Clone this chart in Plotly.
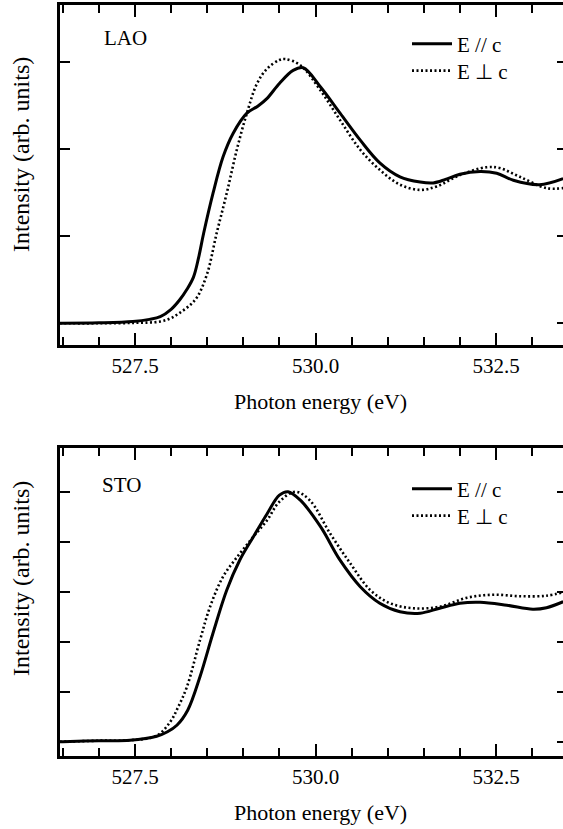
import plotly.graph_objects as go

# ---------------- data: LAO panel ----------------
lao_par_E = [526.46, 526.5, 527.0, 527.47, 527.7, 527.85, 528.0, 528.12, 528.22, 528.31, 528.38, 528.45,
             528.58, 528.72, 528.86, 529.05, 529.2, 529.33, 529.5, 529.69, 529.83, 530.07, 530.34,
             530.62, 530.89, 531.17, 531.45, 531.63, 531.8, 532.0, 532.28, 532.51, 532.74, 533.1, 533.43]
lao_par_I = [0.0, 0.0, 0.005, 0.02, 0.045, 0.076, 0.16, 0.27, 0.39, 0.53, 0.75, 1.03,
             1.49, 1.91, 2.18, 2.41, 2.49, 2.58, 2.75, 2.90, 2.93, 2.71, 2.41,
             2.10, 1.84, 1.68, 1.62, 1.61, 1.65, 1.71, 1.74, 1.72, 1.64, 1.59, 1.66]

lao_perp_E = [526.46, 526.5, 527.0, 527.5, 527.85, 528.0, 528.12, 528.25, 528.36, 528.5, 528.63,
              528.77, 528.91, 529.05, 529.19, 529.33, 529.5, 529.58, 529.79, 530.07, 530.34,
              530.62, 530.89, 531.17, 531.45, 531.68, 532.0, 532.37, 532.55, 532.83, 533.2, 533.43]
lao_perp_I = [0.0, 0.0, 0.0, 0.005, 0.02, 0.06, 0.12, 0.20, 0.30, 0.57, 1.03,
              1.49, 1.99, 2.41, 2.75, 2.92, 3.02, 3.03, 2.96, 2.67, 2.33,
              1.99, 1.76, 1.59, 1.53, 1.57, 1.70, 1.79, 1.78, 1.68, 1.55, 1.55]

# ---------------- data: STO panel ----------------
sto_par_E = [526.46, 526.5, 527.0, 527.43, 527.8, 527.95, 528.08, 528.23, 528.4, 528.58, 528.77,
             528.95, 529.14, 529.33, 529.5, 529.62, 529.79, 530.07, 530.34, 530.62, 530.89,
             531.17, 531.45, 531.72, 532.0, 532.28, 532.65, 533.01, 533.2, 533.43]
sto_par_I = [0.0, 0.0, 0.02, 0.03, 0.11, 0.2, 0.33, 0.63, 1.30, 2.17, 3.03,
             3.63, 4.10, 4.56, 4.93, 5.0, 4.83, 4.30, 3.63, 3.10, 2.77,
             2.60, 2.57, 2.67, 2.77, 2.79, 2.73, 2.65, 2.68, 2.80]

sto_perp_E = [526.46, 526.5, 527.0, 527.43, 527.8, 527.99, 528.1, 528.22, 528.4, 528.54, 528.72,
              528.95, 529.14, 529.33, 529.5, 529.72, 529.92, 530.2, 530.48, 530.76, 531.03,
              531.35, 531.72, 532.1, 532.46, 532.83, 533.2, 533.43]
sto_perp_I = [0.0, 0.0, 0.02, 0.03, 0.12, 0.40, 0.70, 1.10, 2.03, 2.70, 3.30,
              3.76, 4.10, 4.43, 4.80, 5.0, 4.83, 4.17, 3.57, 3.03, 2.77,
              2.67, 2.70, 2.88, 2.94, 2.91, 2.92, 2.99]

x_tickvals = [527.5, 530.0, 532.5]
x_ticktext = ["527.5", "530.0", "532.5"]
lao_yticks = [0, 1, 2, 3]
sto_yticks = [0, 1, 2, 3, 4, 5]
panel_labels = ["LAO", "STO"]
series_names = ["E // c", "E \u22a5 c"]
x_title = "Photon energy (eV)"
y_title = "Intensity (arb. units)"

W, H = 563, 829
FONT = "Liberation Serif, Times New Roman, serif"
FS = 21

def py(px):
    return 1 - px / H

def pxx(px):
    return px / W

fig = go.Figure()

solid = dict(color="black", width=3)
dotted = dict(color="black", width=2.6, dash="2px,2.5px")

fig.add_trace(go.Scatter(x=lao_par_E, y=lao_par_I, mode="lines", line=solid, line_shape="spline",
                         name=series_names[0], xaxis="x", yaxis="y", legend="legend"))
fig.add_trace(go.Scatter(x=lao_perp_E, y=lao_perp_I, mode="lines", line=dotted, line_shape="spline",
                         name=series_names[1], xaxis="x", yaxis="y", legend="legend2"))
fig.add_trace(go.Scatter(x=sto_par_E, y=sto_par_I, mode="lines", line=solid, line_shape="spline",
                         name=series_names[0], xaxis="x2", yaxis="y3", legend="legend3"))
fig.add_trace(go.Scatter(x=sto_perp_E, y=sto_perp_I, mode="lines", line=dotted, line_shape="spline",
                         name=series_names[1], xaxis="x2", yaxis="y3", legend="legend4"))

xdom = [60 / W, 1.0]
top_dom = [py(345), py(5)]
bot_dom = [py(755.7), py(448.3)]

xrange = [527.5 - 75 / 72.2, 527.5 + (W - 135) / 72.2]

def xaxis(domain_anchor):
    return dict(domain=xdom, anchor=domain_anchor, range=xrange,
                showline=True, linecolor="black", linewidth=2.5, mirror="ticks",
                ticks="inside", ticklen=12, tickwidth=2, tickcolor="black",
                tickvals=x_tickvals, ticktext=x_ticktext,
                minor=dict(dtick=0.5, tick0=526.5, ticks="inside", ticklen=8, tickwidth=2, tickcolor="black"),
                showgrid=False, zeroline=False,
                tickfont=dict(family=FONT, size=FS, color="black"))

def yaxis(dom, rng, tv, anchor):
    return dict(domain=dom, anchor=anchor, range=rng, showline=True, linecolor="black", linewidth=2.5,
                ticks="inside", ticklen=10, tickwidth=2, tickcolor="black",
                tickvals=tv, showticklabels=False, showgrid=False, zeroline=False)

def yaxis_right(over, rng, tv, anchor):
    return dict(overlaying=over, side="right", anchor=anchor, range=rng, showline=False,
                ticks="inside", ticklen=6, tickwidth=2, tickcolor="black",
                tickvals=tv, showticklabels=False, showgrid=False, zeroline=False)

top_range = [-(345 - 323.3) / 87.2, 3 + (61.7 - 5) / 87.2]
bot_range = [-(755.7 - 741.7) / 50, 5 + (491.7 - 448.3) / 50]

def legend_at(ycenter):
    return dict(x=pxx(407), y=py(ycenter), xanchor="left", yanchor="middle", bgcolor="rgba(0,0,0,0)",
                font=dict(family=FONT, size=FS, color="black"), itemwidth=40, tracegroupgap=0,
                borderwidth=0)

fig.update_layout(
    width=W, height=H,
    margin=dict(l=0, r=0, t=0, b=0),
    paper_bgcolor="white", plot_bgcolor="white",
    font=dict(family=FONT, size=FS, color="black"),
    xaxis=xaxis("y"),
    yaxis=yaxis(top_dom, top_range, lao_yticks, "x"),
    yaxis2=yaxis_right("y", top_range, lao_yticks, "x"),
    xaxis2=xaxis("y3"),
    yaxis3=yaxis(bot_dom, bot_range, sto_yticks, "x2"),
    yaxis4=yaxis_right("y3", bot_range, sto_yticks, "x2"),
    legend=legend_at(44),
    legend2=legend_at(71),
    legend3=legend_at(489),
    legend4=legend_at(516),
    showlegend=True,
)

# invisible anchor traces to activate right-side tick axes
fig.add_trace(go.Scatter(x=[xrange[0]], y=[0], mode="markers", marker=dict(opacity=0), xaxis="x", yaxis="y2",
                         showlegend=False, hoverinfo="skip"))
fig.add_trace(go.Scatter(x=[xrange[0]], y=[0], mode="markers", marker=dict(opacity=0), xaxis="x2", yaxis="y4",
                         showlegend=False, hoverinfo="skip"))

ann = []
ann.append(dict(x=pxx(102), y=py(38), text=panel_labels[0], xanchor="left", yanchor="middle", size=FS))
ann.append(dict(x=pxx(100), y=py(485), text=panel_labels[1], xanchor="left", yanchor="middle", size=FS))
ann.append(dict(x=pxx(320), y=py(401), text=x_title, xanchor="center", yanchor="middle", size=22))
ann.append(dict(x=pxx(320), y=py(812), text=x_title, xanchor="center", yanchor="middle", size=22))
ann.append(dict(x=pxx(21), y=py(155), text=y_title, textangle=-90, xanchor="center", yanchor="middle", size=24))
ann.append(dict(x=pxx(21), y=py(579), text=y_title, textangle=-90, xanchor="center", yanchor="middle", size=24))
for a in ann:
    s = a.pop("size")
    a.update(xref="paper", yref="paper", showarrow=False, font=dict(family=FONT, size=s, color="black"))
fig.update_layout(annotations=ann)

fig.write_html("out.html", config={"displayModeBar": False},
               post_script="document.body.style.margin='0';document.body.style.padding='0';document.body.style.overflow='hidden';")
